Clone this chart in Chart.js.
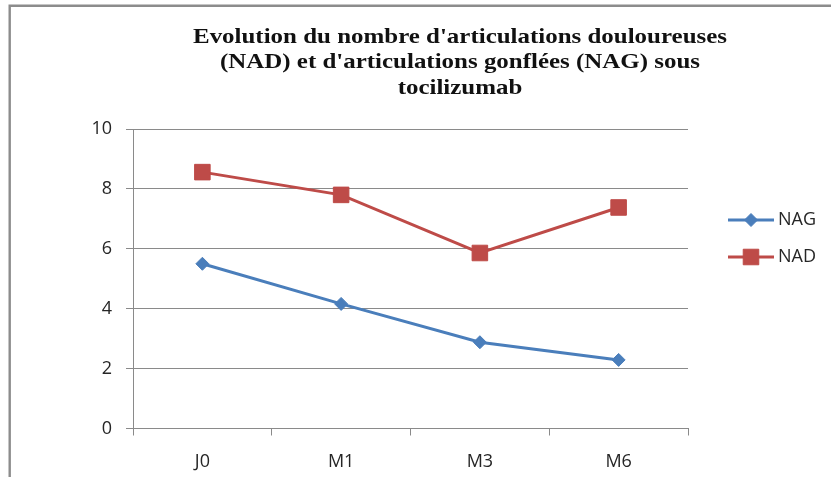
<!DOCTYPE html>
<html>
<head>
<meta charset="utf-8">
<script src="https://cdn.jsdelivr.net/npm/chart.js@4/dist/chart.umd.min.js"></script>
<style>
  html, body { margin: 0; padding: 0; background: #fff; }
  #wrap { width: 831px; height: 477px; position: relative; }
</style>
</head>
<body>
<div id="wrap"><canvas id="c" width="831" height="477"></canvas></div>
<script>
// Visits (x axis)
const categories = ['J0', 'M1', 'M3', 'M6'];
// Swollen joint count
const nagValues = [5.5, 4.16, 2.88, 2.29];
// Tender joint count
const nadValues = [8.56, 7.8, 5.86, 7.38];
const seriesNames = ['NAG', 'NAD'];
const titleLines = [
  "Evolution du nombre d'articulations douloureuses",
  "(NAD) et d'articulations gonflées (NAG) sous",
  "tocilizumab"
];
const yMin = 0, yMax = 10, yStep = 2;

const BLUE = '#4a7ebb';
const RED = '#be4b48';
const GRID = '#8a8a8a';
const TEXT = '#262626';
const labelFont = { family: "'Open Sans', sans-serif", size: 18 };

// Outer frame of the chart sheet (top and left edges)
const framePlugin = {
  id: 'frame',
  beforeDraw(chart) {
    const ctx = chart.ctx;
    ctx.save();
    ctx.fillStyle = '#fff';
    ctx.fillRect(0, 0, chart.width, chart.height);
    ctx.strokeStyle = '#8c8c8c';
    ctx.lineWidth = 2.4;
    ctx.beginPath();
    ctx.moveTo(9.7, chart.height);
    ctx.lineTo(9.7, 5.8);
    ctx.lineTo(chart.width, 5.8);
    ctx.stroke();
    ctx.restore();
  }
};

// Three-line bold serif title, widened so the first line spans 534px
const titlePlugin = {
  id: 'sheetTitle',
  afterDraw(chart) {
    const ctx = chart.ctx;
    ctx.save();
    ctx.fillStyle = '#111';
    ctx.font = "bold 21px 'Liberation Serif', 'Times New Roman', serif";
    ctx.textAlign = 'center';
    ctx.textBaseline = 'middle';
    const cx = 460, y0 = 37.5, lh = 25.5;
    const sx = 534 / ctx.measureText(titleLines[0]).width;
    ctx.translate(cx, 0);
    ctx.scale(sx, 1);
    titleLines.forEach((t, i) => ctx.fillText(t, 0, y0 + i * lh));
    ctx.restore();
  }
};

function drawMarker(ctx, style, x, y, r, color) {
  ctx.save();
  ctx.fillStyle = color;
  ctx.strokeStyle = color;
  ctx.lineWidth = 1;
  ctx.beginPath();
  if (style === 'rect') {
    const s = r * Math.SQRT1_2;
    ctx.rect(x - s, y - s, 2 * s, 2 * s);
  } else {
    ctx.moveTo(x, y - r);
    ctx.lineTo(x + r, y);
    ctx.lineTo(x, y + r);
    ctx.lineTo(x - r, y);
    ctx.closePath();
  }
  ctx.fill();
  ctx.stroke();
  ctx.restore();
}

// Legend on the right: line sample with marker and series name
const legendPlugin = {
  id: 'sideLegend',
  afterDraw(chart) {
    const ctx = chart.ctx;
    const x0 = 728, x1 = 774, ys = [220, 257];
    chart.data.datasets.forEach((ds, i) => {
      const y = ys[i];
      ctx.save();
      ctx.strokeStyle = ds.borderColor;
      ctx.lineWidth = 3;
      ctx.beginPath();
      ctx.moveTo(x0, y);
      ctx.lineTo(x1, y);
      ctx.stroke();
      ctx.restore();
      drawMarker(ctx, ds.pointStyle, (x0 + x1) / 2, y, ds.pointRadius, ds.backgroundColor);
      ctx.save();
      ctx.fillStyle = TEXT;
      ctx.font = "18px 'Open Sans', sans-serif";
      ctx.textAlign = 'left';
      ctx.textBaseline = 'middle';
      ctx.fillText(ds.label, 778, y);
      ctx.restore();
    });
  }
};

new Chart(document.getElementById('c'), {
  type: 'line',
  data: {
    labels: categories,
    datasets: [
      {
        label: seriesNames[0],
        data: nagValues,
        borderColor: BLUE,
        backgroundColor: BLUE,
        borderWidth: 3,
        pointStyle: 'rectRot',
        pointRadius: 6.5,
        pointBorderWidth: 1,
        tension: 0
      },
      {
        label: seriesNames[1],
        data: nadValues,
        borderColor: RED,
        backgroundColor: RED,
        borderWidth: 3,
        pointStyle: 'rect',
        pointRadius: 11,
        pointBorderWidth: 1,
        tension: 0
      }
    ]
  },
  options: {
    responsive: false,
    animation: false,
    devicePixelRatio: 1,
    layout: { padding: { left: 10, right: 143, top: 129, bottom: 0 } },
    plugins: {
      legend: { display: false },
      title: { display: false },
      tooltip: { enabled: false }
    },
    scales: {
      x: {
        offset: true,
        grid: {
          offset: true,
          drawOnChartArea: false,
          drawTicks: true,
          tickLength: 7,
          color: GRID
        },
        border: { display: true, color: GRID, width: 1 },
        ticks: { color: TEXT, font: labelFont, padding: 16, maxRotation: 0 },
        afterFit(scale) { scale.height = 48.5; }
      },
      y: {
        min: yMin,
        max: yMax,
        grid: { color: GRID, tickLength: 7, lineWidth: 1 },
        border: { display: true, color: GRID, width: 1 },
        ticks: { stepSize: yStep, color: TEXT, font: labelFont, padding: 14 },
        afterFit(scale) { scale.width = 123; }
      }
    }
  },
  plugins: [framePlugin, titlePlugin, legendPlugin]
});
</script>
</body>
</html>
